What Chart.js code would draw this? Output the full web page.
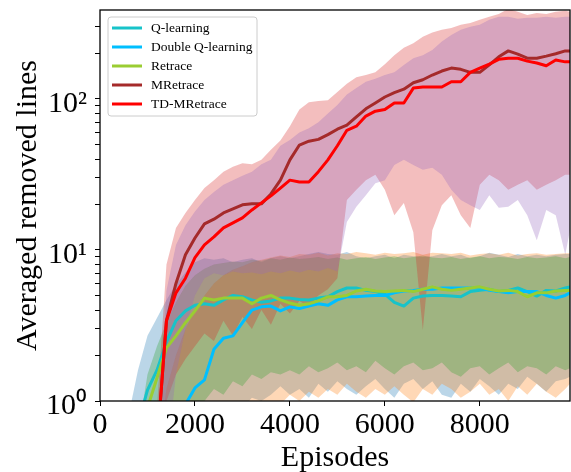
<!DOCTYPE html>
<html>
<head>
<meta charset="utf-8">
<title>Averaged removed lines</title>
<script src="https://cdn.jsdelivr.net/npm/chart.js@4.4.1/dist/chart.umd.min.js"></script>
<style>
  html, body { margin: 0; padding: 0; background: #fff; }
  canvas { display: block; }
</style>
</head>
<body>
<canvas id="chart" width="571" height="472"></canvas>
<script>
// x positions (episodes)
const episodes = [0,200,400,600,800,1000,1200,1400,1600,1800,2000,2200,2400,2600,2800,3000,3200,3400,3600,3800,4000,4200,4400,4600,4800,5000,5200,5400,5600,5800,6000,6200,6400,6600,6800,7000,7200,7400,7600,7800,8000,8200,8400,8600,8800,9000,9200,9400,9600,9800,9900];

const seriesNames = ["Q-learning", "Double Q-learning", "Retrace", "MRetrace", "TD-MRetrace"];

// mean curves
const qMean  = [0.4,0.4,0.4,0.4,0.7,1.18,1.6,2.46,3.4,3.95, 4.3,4.4,4.3,4.67,5.0,4.9,4.67,4.5,4.6,4.8, 4.8,4.7,4.67,4.8,4.9,5.3,5.6,5.6,5.4,5.3, 5.1,4.5,4.25,4.8,4.95,5.0,5.0,4.95,4.9,5.3, 5.4,5.5,5.3,5.4,5.6,5.3,4.95,5.4,5.35,5.6, 5.7];
const dqMean = [0.4,0.4,0.4,0.4,0.4,0.4,0.4,0.4,0.4,0.95, 1.22,1.38,2.2,2.6,2.7,3.3,4.0,4.2,4.25,3.95, 4.2,4.1,4.25,4.4,4.3,4.67,4.9,4.9,4.95,5.0, 5.0,5.2,5.35,5.4,5.5,5.5,5.6,5.6,5.6,5.6, 5.6,5.4,5.3,5.2,5.3,5.3,5.3,5.0,4.8,5.0, 5.2];
const rMean  = [0.4,0.4,0.4,0.4,0.6,0.9,1.42,2.25,2.7,3.3, 3.95,4.8,4.67,4.8,4.8,4.8,4.4,4.8,5.0,4.67, 4.45,4.3,4.4,4.6,4.9,4.9,5.0,5.35,5.5,5.35, 5.3,5.35,5.4,5.3,5.5,5.7,5.5,5.4,5.5,5.6, 5.7,5.5,5.35,5.4,5.3,4.9,5.2,5.2,5.35,5.4, 5.4];
const mMean  = [0.4,0.4,0.4,0.4,0.4,0.4,0.5,3.4,6.0,9.3, 12,14.9,16,17.6,18.7,19.9,20.2,20.2,23.5,29, 39.5,49.5,52.5,54,58,63,67,76,86,94, 103,110,116,128,134,144,153,160,157,150, 150,168,190,208,198,186,186,192,199,208, 208];
const tdMean = [0.4,0.4,0.4,0.4,0.4,0.4,0.5,3.4,5.2,6.5, 8.9,10.8,12.2,14,15.1,16.3,18.4,20.5,22.8,25.7, 29,28.2,28.2,33,39.5,49,62,66,77,83, 85,94,94,118,120,120,120,130,130,150, 160,170,183,186,186,178,173,166,181,176, 176];

// shaded band edges
const qLo  = [0.4,0.4,0.4,0.4,0.4,0.4,0.4,0.4,0.4,0.4, 0.4,0.4,0.4,0.4,0.8,0.9,1.05,1.0,1.1,1.25, 1.1,1.2,1.05,1.3,1.15,1.35,1.2,1.1,1.25,1.4, 1.2,1.05,1.3,1.4,1.2,1.35,1.1,1.05,1.3,1.15, 1.4,1.25,1.1,1.3,1.2,1.45,1.3,1.15,1.35,1.4, 1.45];
const qHi  = [0.4,0.4,0.4,0.8,1.6,2.7,3.55,4.67,5.9,7.1, 8.3,8.8,8.6,8.8,8.3,8.6,8.8,8.3,8.8,9.1, 8.8,9.1,9.4,9.7,9.4,9.3,9.7,9.1,8.8,9.1, 9.3,8.8,9.3,9.1,9.0,9.1,9.4,9.1,9.3,8.8, 9.1,9.6,9.3,9.0,9.4,9.1,9.3,9.1,9.3,9.4, 9.4];
const dqLo = [0.4,0.4,0.4,0.4,0.4,0.4,0.4,0.4,0.4,0.4, 0.4,0.4,0.4,0.4,0.4,0.4,0.4,0.4,0.8,0.95, 1.1,1.0,1.15,1.05,1.2,1.1,1.3,1.15,1.05,1.2, 1.1,1.25,1.1,0.98,1.2,1.1,1.3,1.2,1.05,1.15, 1.3,1.1,1.2,1.0,1.25,1.1,1.3,1.15,1.05,1.2, 1.3];
const dqHi = [0.4,0.4,0.4,0.4,0.4,0.4,0.4,1.2,2.0,3.0, 4.0,5.0,6.0,6.8,7.4,7.8,8.3,8.6,8.9,9.2, 9.0,9.4,9.3,9.6,9.2,9.5,9.4,9.7,9.5,9.3, 9.6,9.4,9.5,9.7,9.3,9.6,9.5,9.4,9.6,9.2, 9.4,9.5,9.3,9.6,9.2,9.4,9.5,9.3,9.4,9.5, 9.5];
const rLo  = [0.4,0.4,0.4,0.4,0.4,0.4,0.4,0.4,0.4,0.4, 0.8,1.0,1.2,1.1,1.35,1.25,1.5,1.4,1.55,1.5, 1.6,1.5,1.7,1.55,1.65,1.8,1.6,1.7,1.55,1.85, 1.65,1.5,1.7,1.8,1.6,1.65,1.8,1.55,1.45,1.65, 1.7,1.5,1.65,1.8,1.55,1.7,1.65,1.5,1.7,1.6, 1.65];
const rHi  = [0.4,0.4,0.4,0.4,0.6,1.5,2.3,3.3,4.5,5.8, 6.8,7.5,8.0,8.2,8.4,8.3,8.6,8.5,8.8,8.6, 8.9,8.7,8.8,9.0,8.7,8.9,8.6,8.8,9.0,8.7, 8.9,9.1,8.8,9.0,9.2,8.9,8.8,9.0,8.7,8.9, 9.1,8.8,9.0,8.9,8.7,9.0,8.8,8.9,9.1,8.8, 9.0];
const mLo  = [0.4,0.4,0.4,0.4,0.4,0.4,0.4,1.0,1.5,1.9, 2.3,2.8,2.5,3.4,2.7,3.6,3.0,4.0,3.2,4.4, 3.8,4.6,4.2,5.0,5.5,6.5,21.4,25,29,31.5, 25,17,20.5,13.1,2.95,13.5,19.8,23,17,14, 27,31.5,29,25,27,29,25,27,29,31.5, 31.5];
const mHi  = [0.4,0.4,0.4,0.4,0.4,0.4,0.9,8.0,14,17.6, 21.4,25.7,29,33,35.5,37.5,37,39.5,46,53, 66,85,95,97,98,111,126,139,144,150, 170,195,218,234,258,275,287,295,310,318, 334,350,365,395,378,360,370,365,378,383, 378];
const tdLo = [0.4,0.4,0.4,0.4,0.4,0.4,0.4,0.4,1.5,3.0, 5.0,6.5,7.0,6.8,7.2,7.0,7.1,6.9,7.2,7.0, 7.3,7.1,7.4,7.2,7.6,7.2,15.3,19.3,23,27.7, 29,36.5,39.5,36.5,34,35,31.5,25,21.4,19.8, 18.4,23,19,19.3,21.4,17,11.6,18.4,17,9.3, 13.5];
const tdHi = [0.4,0.4,0.4,0.4,0.4,0.4,0.4,5.4,10.8,14.6, 18,21.4,24.2,27,29,31,33,37,39.5,49, 53.5,60,64,70,80,91,107,118,130,136, 144,150,168,186,195,211,240,265,287,300, 310,334,350,350,340,345,345,350,345,350, 350];

const means = [qMean, dqMean, rMean, mMean, tdMean];
const lows  = [qLo, dqLo, rLo, mLo, tdLo];
const highs = [qHi, dqHi, rHi, mHi, tdHi];

const lineColors = ["#17C3C9", "#00BFFF", "#9ACD32", "#A52A2A", "#FF0000"];
const bandColors = ["rgba(31,119,180,0.3)", "rgba(255,127,14,0.3)", "rgba(44,160,44,0.3)", "rgba(214,39,40,0.3)", "rgba(148,103,189,0.3)"];

// axis ticks
const xTickValues = [0, 2000, 4000, 6000, 8000];
const xMax = 9900;
const yMax = 388;
const yTickValues = [1,2,3,4,5,6,7,8,9,10,20,30,40,50,60,70,80,90,100,200,300];
const yMajorTicks = [1, 10, 100];
const yMajorLabels = ["10\u2070", "10\u00B9", "10\u00B2"];

const serif = "'Liberation Serif', 'Times New Roman', serif";

function toPoints(arr) {
  return arr.map((v, i) => ({ x: episodes[i], y: v }));
}

const datasets = [];
seriesNames.forEach((name, k) => {
  datasets.push({
    label: name,
    data: toPoints(means[k]),
    borderColor: lineColors[k],
    borderWidth: 3,
    borderJoinStyle: "round",
    pointRadius: 0,
    fill: false,
    order: 4 - k
  });
});
seriesNames.forEach((name, k) => {
  datasets.push({
    label: "",
    data: toPoints(lows[k]),
    borderColor: "rgba(0,0,0,0)",
    borderWidth: 0,
    pointRadius: 0,
    fill: false,
    order: 20 - k
  });
  datasets.push({
    label: "",
    data: toPoints(highs[k]),
    borderColor: "rgba(0,0,0,0)",
    borderWidth: 0,
    pointRadius: 0,
    backgroundColor: bandColors[k],
    fill: "-1",
    order: 20 - k
  });
});

// box around the plot area
const framePlugin = {
  id: "frame",
  afterDatasetsDraw(chart) {
    const { ctx, chartArea: a } = chart;
    ctx.save();
    ctx.strokeStyle = "#000";
    ctx.lineWidth = 1.3;
    ctx.strokeRect(a.left, a.top, a.right - a.left, a.bottom - a.top);
    ctx.restore();
  }
};

// legend drawn inside the plot, upper left
const legendPlugin = {
  id: "insideLegend",
  afterDraw(chart) {
    const { ctx, chartArea: a } = chart;
    const items = chart.data.datasets.filter(d => d.label);
    const x0 = a.left + 8, y0 = a.top + 7, w = 149, rowH = 19;
    const h = items.length * rowH + 4;
    ctx.save();
    ctx.beginPath();
    ctx.roundRect(x0, y0, w, h, 3);
    ctx.fillStyle = "rgba(255,255,255,0.8)";
    ctx.fill();
    ctx.strokeStyle = "#cccccc";
    ctx.lineWidth = 1;
    ctx.stroke();
    ctx.font = "13.5px " + serif;
    ctx.textBaseline = "middle";
    ctx.fillStyle = "#000";
    items.forEach((d, i) => {
      const y = y0 + 11 + i * rowH;
      ctx.beginPath();
      ctx.moveTo(x0 + 4, y);
      ctx.lineTo(x0 + 34, y);
      ctx.strokeStyle = d.borderColor;
      ctx.lineWidth = 3;
      ctx.stroke();
      ctx.fillText(d.label, x0 + 43, y);
    });
    ctx.restore();
  }
};

new Chart(document.getElementById("chart"), {
  type: "line",
  data: { datasets },
  options: {
    responsive: false,
    animation: false,
    events: [],
    layout: { padding: { left: 0, right: 1, top: 10, bottom: 0 } },
    plugins: { legend: { display: false }, tooltip: { enabled: false } },
    scales: {
      x: {
        type: "linear",
        min: 0,
        max: xMax,
        border: { display: false },
        grid: { drawOnChartArea: false, drawTicks: true, tickLength: 5, color: "#000" },
        afterBuildTicks(scale) {
          scale.ticks = xTickValues.map(v => ({ value: v }));
        },
        ticks: {
          autoSkip: false,
          maxRotation: 0,
          padding: 1,
          color: "#000",
          font: { family: serif, size: 30 },
          callback(value) { return String(value); }
        },
        title: {
          display: true,
          text: "Episodes",
          color: "#000",
          font: { family: serif, size: 30 },
          padding: { top: 0, bottom: -4 }
        },
        afterFit(scale) {
          scale.height = 71;
          scale.paddingLeft = 0;
          scale.paddingRight = 0;
        }
      },
      y: {
        type: "logarithmic",
        min: 1,
        max: yMax,
        border: { display: false },
        grid: { drawOnChartArea: false, drawTicks: true, tickLength: 5, color: "#000" },
        afterBuildTicks(scale) {
          scale.ticks = yTickValues.map(v => ({ value: v }));
        },
        ticks: {
          autoSkip: false,
          padding: 8,
          labelOffset: 5,
          color: "#000",
          font: { family: serif, size: 30 },
          callback(value) {
            const i = yMajorTicks.indexOf(value);
            return i >= 0 ? yMajorLabels[i] : "";
          }
        },
        title: {
          display: true,
          text: "Averaged removed lines",
          color: "#000",
          font: { family: serif, size: 30 },
          padding: { top: 10, bottom: 0 }
        },
        afterFit(scale) {
          scale.width = 100;
          scale.paddingTop = 0;
          scale.paddingBottom = 0;
        }
      }
    }
  },
  plugins: [framePlugin, legendPlugin]
});
</script>
</body>
</html>
